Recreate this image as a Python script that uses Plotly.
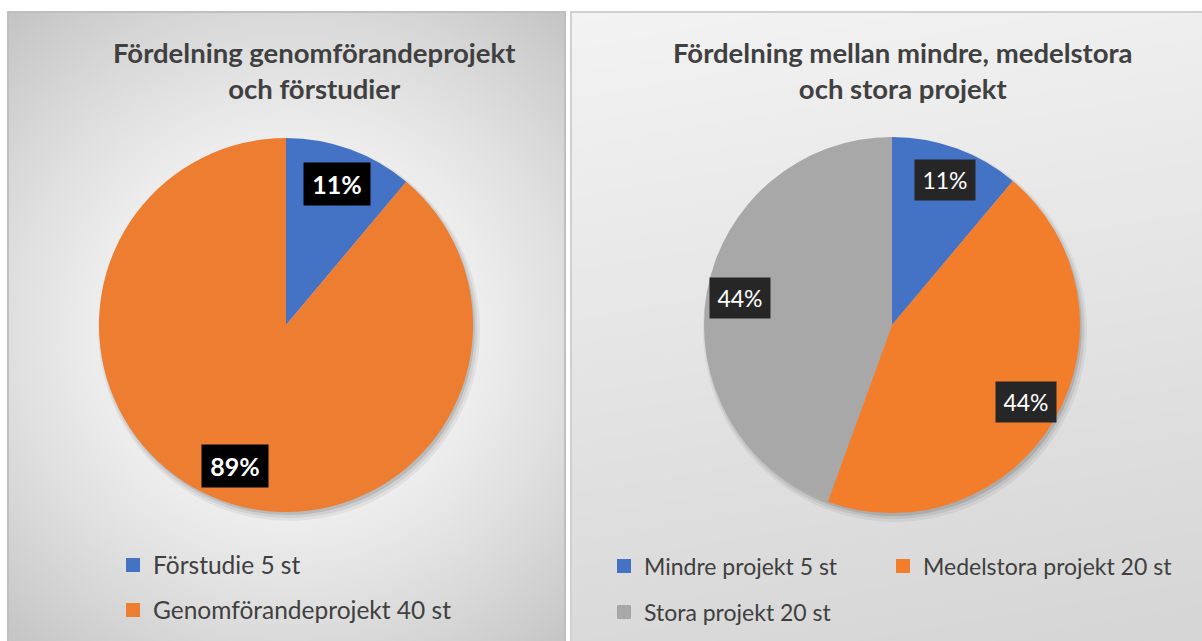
import math
import numpy as np
import plotly.graph_objects as go

# ---------------- data ----------------
left_title = "Fördelning genomförandeprojekt<br>och förstudier"
left_labels = ["Förstudie", "Genomförandeprojekt"]
left_values = [5, 40]
left_colors = ["#4472C4", "#ED7D31"]

right_title = "Fördelning mellan mindre, medelstora<br>och stora projekt"
right_labels = ["Mindre projekt", "Medelstora projekt", "Stora projekt"]
right_values = [5, 20, 20]
right_colors = ["#4472C4", "#F27D2B", "#A8A8A8"]

unit = "st"

# ---------------- layout constants ----------------
W, H = 1202, 641
FONT = "Lato, Carlito, Calibri, 'Open Sans', sans-serif"
TXT = "#404040"


def px(x):
    return x / W


def py(y):
    return 1 - y / H


fig = go.Figure()

# panel backgrounds as smooth heatmaps
# left: radial gradient
lx = np.linspace(8, 565, 40)
ly = np.linspace(12, 641, 40)
LX, LY = np.meshgrid(lx, ly)
d = np.sqrt((LX - 290) ** 2 + (LY - 330) ** 2) / 425.0
zl = 255 - 60 * np.clip(d, 0, 1.2) ** 1.5
fig.add_trace(go.Heatmap(x=lx, y=ly, z=zl, zmin=190, zmax=255, zsmooth="best",
                         colorscale=[[0, "rgb(190,190,190)"], [1, "rgb(255,255,255)"]],
                         showscale=False, hoverinfo="skip", xaxis="x", yaxis="y"))
# right: mostly vertical linear gradient
rx = np.linspace(571, 1202, 40)
ry = np.linspace(12, 641, 40)
RX, RY = np.meshgrid(rx, ry)
t = (RY - 12) / 629.0 * 0.85 + (RX - 571) / 631.0 * 0.15
zr = 243 - 30 * t
fig.add_trace(go.Heatmap(x=rx, y=ry, z=zr, zmin=190, zmax=255, zsmooth="best",
                         colorscale=[[0, "rgb(190,190,190)"], [1, "rgb(255,255,255)"]],
                         showscale=False, hoverinfo="skip", xaxis="x2", yaxis="y2"))

# pies
pies = [
    dict(labels=left_labels, values=left_values, colors=left_colors, cx=286, cy=325, r=187),
    dict(labels=right_labels, values=right_values, colors=right_colors, cx=892, cy=325, r=188),
]
for p in pies:
    # soft shadow
    for off, grow, op in [(5, 4, 0.05), (4, 2, 0.07), (3, 0, 0.11)]:
        rr = p["r"] + grow
        cx, cy = p["cx"] + off * 0.6, p["cy"] + off
        fig.add_trace(go.Pie(values=[1], marker=dict(colors=[f"rgba(0,0,0,{op})"]),
                             textinfo="none", hoverinfo="skip", showlegend=False, sort=False,
                             domain=dict(x=[px(cx - rr), px(cx + rr)], y=[py(cy + rr), py(cy - rr)])))
    fig.add_trace(go.Pie(
        labels=p["labels"], values=p["values"], sort=False, direction="clockwise", rotation=0,
        marker=dict(colors=p["colors"], line=dict(width=0)),
        textinfo="none", showlegend=False,
        domain=dict(x=[px(p["cx"] - p["r"]), px(p["cx"] + p["r"])],
                    y=[py(p["cy"] + p["r"]), py(p["cy"] - p["r"])]),
    ))

# legend entries (dummy traces, one legend per entry)
legend_defs = {}
entries = []
for i, (lab, val, col) in enumerate(zip(left_labels, left_values, left_colors)):
    entries.append((f"{lab} {val} {unit}", col, 113, 565 + 45 * i, "x", "y", 24.5))
right_pos = [(604, 566), (883, 566), (604, 612)]
for (lab, val, col), (lxp, lyp) in zip(zip(right_labels, right_values, right_colors), right_pos):
    entries.append((f"{lab} {val} {unit}", col, lxp, lyp, "x2", "y2", 23))

for i, (name, col, lxp, lyp, xa, ya, fs) in enumerate(entries):
    key = "legend" if i == 0 else f"legend{i + 1}"
    fig.add_trace(go.Scatter(x=[None], y=[None], mode="markers", name=name,
                             marker=dict(symbol="square", size=14, color=col),
                             legend=key, xaxis=xa, yaxis=ya, hoverinfo="skip"))
    legend_defs[key] = dict(x=px(lxp), y=py(lyp), xanchor="left", yanchor="middle",
                            bgcolor="rgba(0,0,0,0)", borderwidth=0,
                            font=dict(family=FONT, size=fs, color=TXT), itemwidth=30)

# percentage labels
annotations = []
for p, k, bold, bg, bw, bh, fs in [(pies[0], 0.8, True, "#000000", 64, 40, 25),
                                    (pies[1], 0.82, False, "#262626", 58, 38, 23)]:
    tot = sum(p["values"])
    cum = 0
    for v in p["values"]:
        th = 2 * math.pi * (cum + v / 2) / tot
        cum += v
        x = p["cx"] + k * p["r"] * math.sin(th)
        y = p["cy"] - k * p["r"] * math.cos(th)
        pct = f"{round(100 * v / tot)}%"
        annotations.append(dict(
            x=px(x), y=py(y), xref="paper", yref="paper", showarrow=False,
            text=f"<b>{pct}</b>" if bold else pct, bgcolor=bg, width=bw, height=bh,
            font=dict(family=FONT, size=fs, color="white"),
            xanchor="center", yanchor="middle", align="center", valign="middle"))

# titles
for title, cx in [(left_title, 314), (right_title, 903)]:
    annotations.append(dict(x=px(cx), y=py(70), xref="paper", yref="paper", showarrow=False,
                            text=f"<b>{title}</b>", xanchor="center", yanchor="middle",
                            font=dict(family=FONT, size=27.5, color=TXT)))


def open_box(x0, x1, y_top, color):
    return dict(type="path", xref="paper", yref="paper",
                path=f"M {px(x0)} {py(H + 5)} L {px(x0)} {py(y_top)} L {px(x1)} {py(y_top)} L {px(x1)} {py(H + 5)}",
                line=dict(color=color, width=2), layer="above")


ax = dict(visible=False, fixedrange=True, showgrid=False, zeroline=False)
fig.update_layout(
    width=W, height=H, margin=dict(l=0, r=0, t=0, b=0),
    paper_bgcolor="white", plot_bgcolor="rgba(0,0,0,0)",
    xaxis=dict(ax, domain=[px(8), px(565)], range=[8, 565]),
    yaxis=dict(ax, domain=[0, py(12)], range=[641, 12]),
    xaxis2=dict(ax, domain=[px(571), 1], range=[571, 1202]),
    yaxis2=dict(ax, domain=[0, py(12)], range=[641, 12]),
    annotations=annotations,
    shapes=[open_box(8, 565, 12, "#BFBFBF"), open_box(571, 1206, 12, "#D0D0D0")],
    hovermode=False,
    **legend_defs,
)

fig.write_html("out.html", config={"displayModeBar": False},
               post_script="document.body.style.margin='0';document.body.style.padding='0';")
